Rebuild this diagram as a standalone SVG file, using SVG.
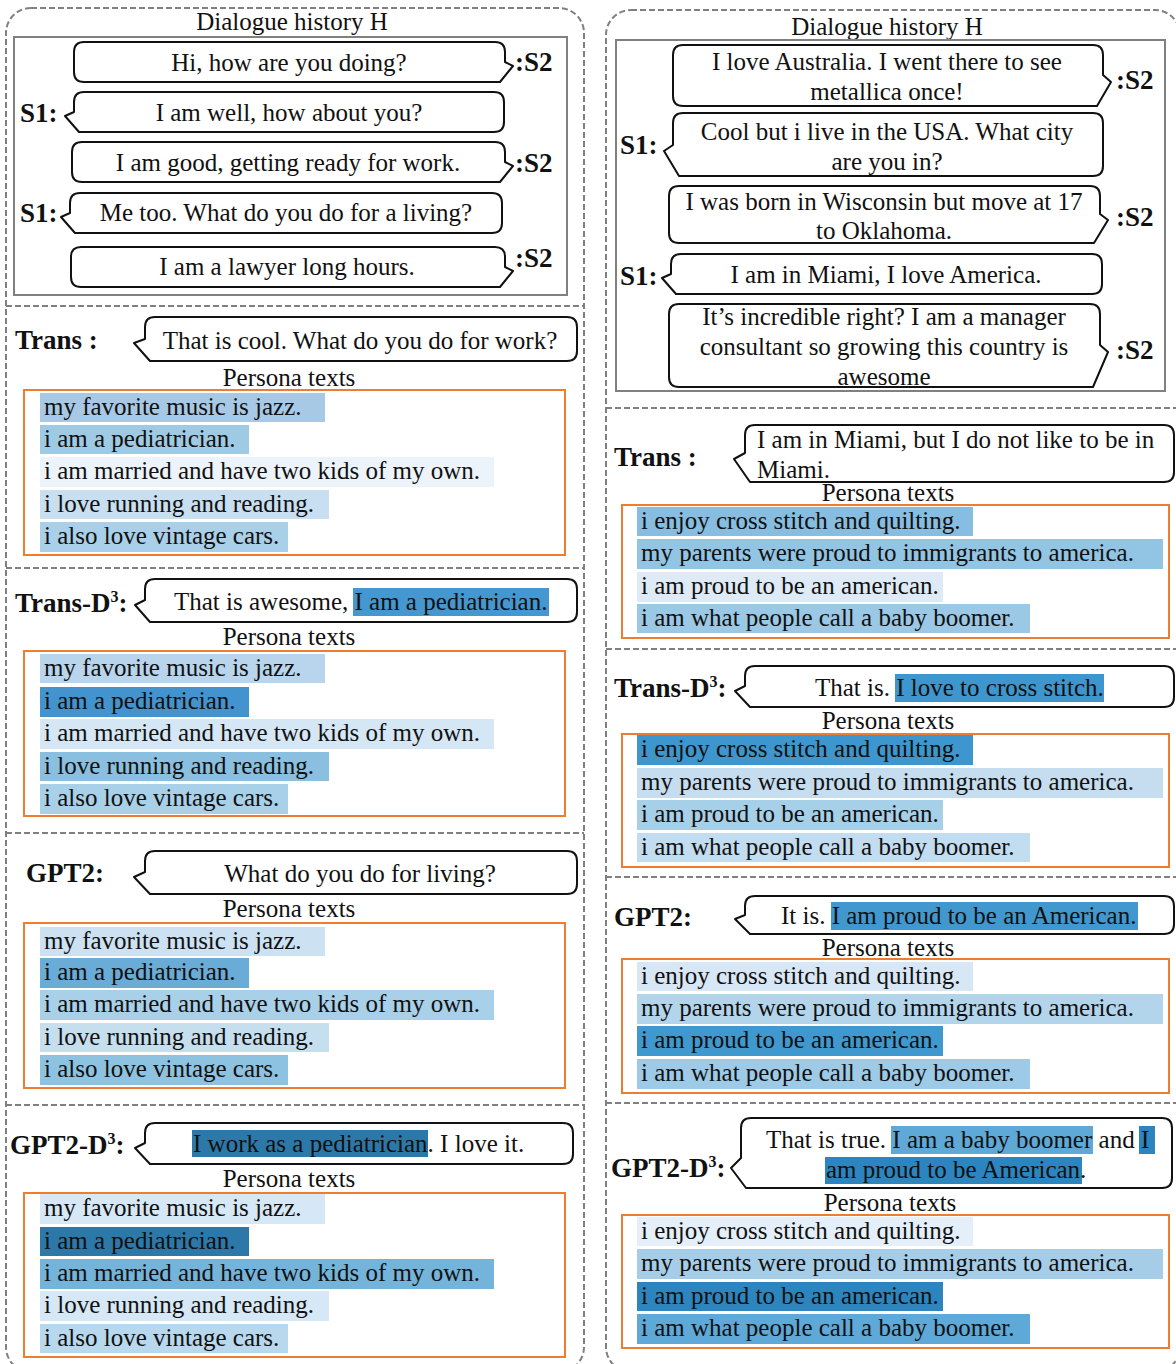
<svg xmlns="http://www.w3.org/2000/svg" width="1176" height="1364" viewBox="0 0 1176 1364">
<style>
.t{font-family:"Liberation Serif","Times New Roman",serif;font-size:25px;fill:#111}
.c{text-anchor:middle}
.b{font-weight:bold;font-size:27px}
.bub{fill:#fff;stroke:#111;stroke-width:2;stroke-linejoin:round}
.frame{fill:none;stroke:#808080;stroke-width:2;stroke-dasharray:6 3}
.hist{fill:none;stroke:#808080;stroke-width:2}
.per{fill:none;stroke:#ED7D31;stroke-width:2}
</style>
<rect width="1176" height="1364" fill="#fff"/>

<!-- frames -->
<g id="frames">
<rect class="frame" x="6" y="8" width="578" height="1364" rx="25"/>
<rect class="frame" x="606" y="10" width="574" height="1362" rx="25"/>
<line class="frame" x1="6" y1="306" x2="584" y2="306"/>
<line class="frame" x1="6" y1="568" x2="584" y2="568"/>
<line class="frame" x1="6" y1="833" x2="584" y2="833"/>
<line class="frame" x1="6" y1="1105" x2="584" y2="1105"/>
<line class="frame" x1="606" y1="408" x2="1180" y2="408"/>
<line class="frame" x1="606" y1="649" x2="1180" y2="649"/>
<line class="frame" x1="606" y1="877" x2="1180" y2="877"/>
<line class="frame" x1="606" y1="1103" x2="1180" y2="1103"/>
</g>

<!-- LEFT: dialogue history -->
<g id="left-history">
<text class="t c" x="292" y="30">Dialogue history H</text>
<rect class="hist" x="14" y="37" width="553" height="258"/>
<path class="bub" d="M84,42 H495 Q505,42 505,52 V62 L513,66 L500,82 H84 Q74,82 74,72 V52 Q74,42 84,42 Z"/>
<text class="t c" x="289" y="71">Hi, how are you doing?</text>
<text class="t b" x="515" y="71">:S2</text>
<path class="bub" d="M84,92 H494 Q504,92 504,102 V122 Q504,132 494,132 H79 L65,116 L74,112 V102 Q74,92 84,92 Z"/>
<text class="t c" x="289" y="121">I am well, how about you?</text>
<text class="t b" x="20" y="122">S1:</text>
<path class="bub" d="M82,142 H495 Q505,142 505,152 V162 L513,166 L500,182 H82 Q72,182 72,172 V152 Q72,142 82,142 Z"/>
<text class="t c" x="288" y="171">I am good, getting ready for work.</text>
<text class="t b" x="515" y="172">:S2</text>
<path class="bub" d="M80,193 H492 Q502,193 502,203 V223 Q502,233 492,233 H75 L61,217 L70,213 V203 Q70,193 80,193 Z"/>
<text class="t c" x="286" y="221">Me too. What do you do for a living?</text>
<text class="t b" x="20" y="222">S1:</text>
<path class="bub" d="M81,247 H495 Q505,247 505,257 V267 L513,271 L500,287 H81 Q71,287 71,277 V257 Q71,247 81,247 Z"/>
<text class="t c" x="287" y="275">I am a lawyer long hours.</text>
<text class="t b" x="515" y="267">:S2</text>
</g>

<!-- LEFT: Trans -->
<g id="left-trans">
<text class="t b" x="15" y="349">Trans :</text>
<path class="bub" d="M155,317 H567 Q577,317 577,327 V351 Q577,361 567,361 H150 L134,343 L145,339 V327 Q145,317 155,317 Z"/>
<text class="t c" x="360" y="349">That is cool. What do you do for work?</text>
<text class="t c" x="289" y="386">Persona texts</text>
<rect class="per" x="24" y="390" width="541" height="165"/>
<rect x="40" y="393" width="285" height="29" fill="#a8c9e6"/>
<rect x="40" y="425" width="209" height="29" fill="#9fcae4"/>
<rect x="40" y="457" width="454" height="30" fill="#edf3fa"/>
<rect x="40" y="490" width="289" height="29" fill="#c7dff0"/>
<rect x="40" y="522" width="248" height="30" fill="#a9d0e8"/>
<text class="t" x="44" y="415">my favorite music is jazz.</text>
<text class="t" x="44" y="447">i am a pediatrician.</text>
<text class="t" x="44" y="479">i am married and have two kids of my own.</text>
<text class="t" x="44" y="512">i love running and reading.</text>
<text class="t" x="44" y="544">i also love vintage cars.</text>
</g>

<!-- LEFT: Trans-D3 -->
<g id="left-trans-d3">
<text class="t b" x="15" y="612">Trans-D<tspan font-size="16" dy="-10">3</tspan><tspan dy="10">:</tspan></text>
<path class="bub" d="M155,579 H567 Q577,579 577,589 V612 Q577,622 567,622 H150 L135,605 L145,600 V589 Q145,579 155,579 Z"/>
<rect x="353" y="588" width="196" height="28" fill="#4597cf"/>
<text class="t" x="174" y="610">That is awesome, I am a pediatrician.</text>
<text class="t c" x="289" y="645">Persona texts</text>
<rect class="per" x="24" y="651" width="541" height="165"/>
<rect x="40" y="654" width="285" height="29" fill="#b8d5ed"/>
<rect x="40" y="687" width="209" height="30" fill="#4393ce"/>
<rect x="40" y="719" width="454" height="30" fill="#d5e7f5"/>
<rect x="40" y="752" width="289" height="29" fill="#8abfe0"/>
<rect x="40" y="784" width="248" height="30" fill="#a8d0e8"/>
<text class="t" x="44" y="676">my favorite music is jazz.</text>
<text class="t" x="44" y="709">i am a pediatrician.</text>
<text class="t" x="44" y="741">i am married and have two kids of my own.</text>
<text class="t" x="44" y="774">i love running and reading.</text>
<text class="t" x="44" y="806">i also love vintage cars.</text>
</g>

<!-- LEFT: GPT2 -->
<g id="left-gpt2">
<text class="t b" x="26" y="882">GPT2:</text>
<path class="bub" d="M155,851 H567 Q577,851 577,861 V884 Q577,894 567,894 H150 L134,877 L145,872 V861 Q145,851 155,851 Z"/>
<text class="t c" x="360" y="882">What do you do for living?</text>
<text class="t c" x="289" y="917">Persona texts</text>
<rect class="per" x="24" y="923" width="541" height="165"/>
<rect x="40" y="927" width="285" height="29" fill="#cce2f2"/>
<rect x="40" y="958" width="209" height="30" fill="#69acd7"/>
<rect x="40" y="990" width="454" height="30" fill="#a8d0e8"/>
<rect x="40" y="1023" width="289" height="29" fill="#c6dfef"/>
<rect x="40" y="1055" width="248" height="30" fill="#8dc3e1"/>
<text class="t" x="44" y="949">my favorite music is jazz.</text>
<text class="t" x="44" y="980">i am a pediatrician.</text>
<text class="t" x="44" y="1012">i am married and have two kids of my own.</text>
<text class="t" x="44" y="1045">i love running and reading.</text>
<text class="t" x="44" y="1077">i also love vintage cars.</text>
</g>

<!-- LEFT: GPT2-D3 -->
<g id="left-gpt2-d3">
<text class="t b" x="10" y="1154">GPT2-D<tspan font-size="16" dy="-10">3</tspan><tspan dy="10">:</tspan></text>
<path class="bub" d="M155,1123 H563 Q573,1123 573,1133 V1154 Q573,1164 563,1164 H150 L135,1148 L145,1143 V1133 Q145,1123 155,1123 Z"/>
<rect x="192" y="1130" width="236" height="27" fill="#2c78a8"/>
<text class="t" x="193" y="1152">I work as a pediatrician. I love it.</text>
<text class="t c" x="289" y="1187">Persona texts</text>
<rect class="per" x="24" y="1193" width="541" height="164"/>
<rect x="40" y="1194" width="285" height="30" fill="#d6e8f5"/>
<rect x="40" y="1227" width="209" height="29" fill="#2c78a8"/>
<rect x="40" y="1259" width="454" height="30" fill="#75b4da"/>
<rect x="40" y="1291" width="289" height="30" fill="#d6e8f5"/>
<rect x="40" y="1324" width="248" height="29" fill="#b8d8ed"/>
<text class="t" x="44" y="1216">my favorite music is jazz.</text>
<text class="t" x="44" y="1249">i am a pediatrician.</text>
<text class="t" x="44" y="1281">i am married and have two kids of my own.</text>
<text class="t" x="44" y="1313">i love running and reading.</text>
<text class="t" x="44" y="1346">i also love vintage cars.</text>
</g>

<!-- RIGHT: dialogue history -->
<g id="right-history">
<text class="t c" x="887" y="35">Dialogue history H</text>
<rect class="hist" x="616" y="40" width="549" height="351"/>
<path class="bub" d="M683,45 H1093 Q1103,45 1103,55 V75 L1111,82 L1097,106 H683 Q673,106 673,96 V55 Q673,45 683,45 Z"/>
<text class="t c" x="887" y="70">I love Australia. I went there to see</text>
<text class="t c" x="887" y="100">metallica once!</text>
<text class="t b" x="1116" y="89">:S2</text>
<path class="bub" d="M683,113 H1093 Q1103,113 1103,123 V166 Q1103,176 1093,176 H679 L664,151 L673,145 V123 Q673,113 683,113 Z"/>
<text class="t c" x="887" y="140">Cool but i live in the USA. What city</text>
<text class="t c" x="887" y="170">are you in?</text>
<text class="t b" x="620" y="154">S1:</text>
<path class="bub" d="M679,186 H1090 Q1100,186 1100,196 V214 L1108,220 L1094,243 H679 Q669,243 669,233 V196 Q669,186 679,186 Z"/>
<text class="t c" x="884" y="210">I was born in Wisconsin but move at 17</text>
<text class="t c" x="884" y="239">to Oklahoma.</text>
<text class="t b" x="1116" y="226">:S2</text>
<path class="bub" d="M681,254 H1092 Q1102,254 1102,264 V284 Q1102,294 1092,294 H676 L662,278 L671,274 V264 Q671,254 681,254 Z"/>
<text class="t c" x="886" y="283">I am in Miami, I love America.</text>
<text class="t b" x="620" y="285">S1:</text>
<path class="bub" d="M679,304 H1090 Q1100,304 1100,314 V345 L1108,352 L1093,387 H679 Q669,387 669,377 V314 Q669,304 679,304 Z"/>
<text class="t c" x="884" y="325">It’s incredible right? I am a manager</text>
<text class="t c" x="884" y="355">consultant so growing this country is</text>
<text class="t c" x="884" y="385">awesome</text>
<text class="t b" x="1116" y="359">:S2</text>
</g>

<!-- RIGHT: Trans -->
<g id="right-trans">
<text class="t b" x="614" y="466">Trans :</text>
<path class="bub" d="M755,425 H1164 Q1174,425 1174,435 V472 Q1174,482 1164,482 H750 L734,459 L745,453 V435 Q745,425 755,425 Z"/>
<text class="t" x="757" y="448">I am in Miami, but I do not like to be in</text>
<text class="t" x="757" y="478">Miami.</text>
<text class="t c" x="888" y="501">Persona texts</text>
<rect class="per" x="622" y="505" width="547" height="133"/>
<rect x="637" y="507" width="336" height="29" fill="#87bde0"/>
<rect x="637" y="539" width="526" height="30" fill="#92c4e3"/>
<rect x="637" y="572" width="306" height="30" fill="#deebf7"/>
<rect x="637" y="604" width="393" height="29" fill="#9bc8e5"/>
<text class="t" x="641" y="529">i enjoy cross stitch and quilting.</text>
<text class="t" x="641" y="561">my parents were proud to immigrants to america.</text>
<text class="t" x="641" y="594">i am proud to be an american.</text>
<text class="t" x="641" y="626">i am what people call a baby boomer.</text>
</g>

<!-- RIGHT: Trans-D3 -->
<g id="right-trans-d3">
<text class="t b" x="614" y="697">Trans-D<tspan font-size="16" dy="-10">3</tspan><tspan dy="10">:</tspan></text>
<path class="bub" d="M755,666 H1164 Q1174,666 1174,676 V697 Q1174,707 1164,707 H750 L735,691 L745,686 V676 Q745,666 755,666 Z"/>
<rect x="895" y="674" width="209" height="28" fill="#3d96cd"/>
<text class="t" x="815" y="696">That is. I love to cross stitch.</text>
<text class="t c" x="888" y="729">Persona texts</text>
<rect class="per" x="622" y="734" width="547" height="133"/>
<rect x="637" y="735" width="336" height="30" fill="#3d96cd"/>
<rect x="637" y="768" width="526" height="30" fill="#c5ddef"/>
<rect x="637" y="800" width="306" height="30" fill="#a6cfe8"/>
<rect x="637" y="833" width="393" height="29" fill="#c2dcf0"/>
<text class="t" x="641" y="757">i enjoy cross stitch and quilting.</text>
<text class="t" x="641" y="790">my parents were proud to immigrants to america.</text>
<text class="t" x="641" y="822">i am proud to be an american.</text>
<text class="t" x="641" y="855">i am what people call a baby boomer.</text>
</g>

<!-- RIGHT: GPT2 -->
<g id="right-gpt2">
<text class="t b" x="614" y="926">GPT2:</text>
<path class="bub" d="M755,896 H1164 Q1174,896 1174,906 V924 Q1174,934 1164,934 H750 L735,919 L745,915 V906 Q745,896 755,896 Z"/>
<rect x="831" y="902" width="307" height="28" fill="#4198cf"/>
<text class="t" x="781" y="924">It is. I am proud to be an American.</text>
<text class="t c" x="888" y="956">Persona texts</text>
<rect class="per" x="622" y="959" width="547" height="134"/>
<rect x="637" y="962" width="336" height="29" fill="#d8e7f5"/>
<rect x="637" y="994" width="526" height="30" fill="#b3d5ec"/>
<rect x="637" y="1026" width="306" height="30" fill="#3f99cf"/>
<rect x="637" y="1059" width="393" height="30" fill="#9dcae6"/>
<text class="t" x="641" y="984">i enjoy cross stitch and quilting.</text>
<text class="t" x="641" y="1016">my parents were proud to immigrants to america.</text>
<text class="t" x="641" y="1048">i am proud to be an american.</text>
<text class="t" x="641" y="1081">i am what people call a baby boomer.</text>
</g>

<!-- RIGHT: GPT2-D3 -->
<g id="right-gpt2-d3">
<text class="t b" x="611" y="1177">GPT2-D<tspan font-size="16" dy="-10">3</tspan><tspan dy="10">:</tspan></text>
<path class="bub" d="M751,1118 H1162 Q1172,1118 1172,1128 V1178 Q1172,1188 1162,1188 H746 L731,1168 L741,1158 V1128 Q741,1118 751,1118 Z"/>
<rect x="891" y="1126" width="202" height="28" fill="#5ea9d8"/>
<rect x="1139" y="1126" width="16" height="28" fill="#2c85be"/>
<rect x="825" y="1157" width="257" height="27" fill="#2c85be"/>
<text class="t" x="766" y="1148">That is true. I am a baby boomer and I</text>
<text class="t" x="826" y="1178">am proud to be American.</text>
<text class="t c" x="890" y="1211">Persona texts</text>
<rect class="per" x="622" y="1215" width="547" height="133"/>
<rect x="637" y="1217" width="336" height="29" fill="#e4eff9"/>
<rect x="637" y="1249" width="526" height="30" fill="#a5cde8"/>
<rect x="637" y="1282" width="306" height="29" fill="#2c85be"/>
<rect x="637" y="1314" width="393" height="30" fill="#5ea9d8"/>
<text class="t" x="641" y="1239">i enjoy cross stitch and quilting.</text>
<text class="t" x="641" y="1271">my parents were proud to immigrants to america.</text>
<text class="t" x="641" y="1304">i am proud to be an american.</text>
<text class="t" x="641" y="1336">i am what people call a baby boomer.</text>
</g>
</svg>
